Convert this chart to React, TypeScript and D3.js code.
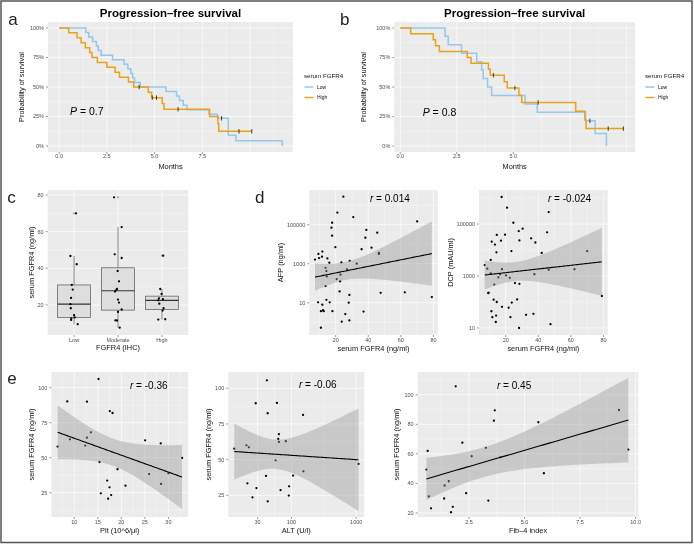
import React from "react";
import * as d3 from "d3";

// ---------------- DATA ----------------
// Panel a – Kaplan–Meier (time in months, survival proportion)
const aLowTime = [0, 1.40, 1.55, 1.75, 1.95, 2.05, 2.20, 2.80, 3.40, 3.60, 3.75, 3.85, 3.95, 4.25, 5.60, 6.15, 6.30, 6.50, 6.70, 7.85, 8.30, 8.86, 9.26, 11.69];
const aLowSurv = [1, 0.962, 0.923, 0.885, 0.846, 0.808, 0.769, 0.731, 0.692, 0.654, 0.615, 0.577, 0.538, 0.5, 0.462, 0.423, 0.385, 0.346, 0.308, 0.269, 0.235, 0.092, 0.046, 0];
const aLowCensor = [8.51];
const aHighTime = [0, 0.50, 0.94, 1.15, 1.37, 1.60, 1.72, 2.00, 2.50, 2.93, 3.16, 3.63, 3.90, 4.67, 4.84, 5.40, 5.49, 7.88, 8.32, 8.36, 10.09];
const aHighSurv = [1, 0.958, 0.917, 0.875, 0.833, 0.792, 0.75, 0.708, 0.667, 0.625, 0.583, 0.542, 0.5, 0.455, 0.41, 0.361, 0.312, 0.25, 0.188, 0.125, 0.125];
const aHighCensor = [4.19, 4.88, 5.10, 6.23, 9.42, 10.09];

// Panel b
const bLowTime = [0, 1.98, 2.12, 2.71, 3.38, 3.60, 3.67, 3.86, 4.04, 5.52, 6.06, 8.20, 8.62, 9.12];
const bLowSurv = [1, 0.929, 0.857, 0.786, 0.714, 0.643, 0.571, 0.5, 0.429, 0.357, 0.286, 0.214, 0.107, 0];
const bLowCensor = [8.39];
const bHighTime = [0, 0.46, 1.46, 1.56, 1.73, 2.96, 3.13, 3.90, 3.98, 4.60, 4.73, 5.25, 5.37, 7.76, 8.17, 8.22, 9.87];
const bHighSurv = [1, 0.95, 0.9, 0.85, 0.8, 0.75, 0.7, 0.65, 0.6, 0.545, 0.491, 0.43, 0.369, 0.295, 0.221, 0.148, 0.148];
const bHighCensor = [4.12, 5.07, 6.10, 9.20, 9.87];

const survTicks = [0, 0.25, 0.5, 0.75, 1];
const survTickLabels = ["0%", "25%", "50%", "75%", "100%"];
const monthTicks = [0, 2.5, 5, 7.5, 10];
const aMonthLabels = ["0.0", "2.5", "5.0", "7.5", ""];
const bMonthLabels = ["0.0", "2.5", "5.0", "", ""];

// Panel c – serum FGFR4 by FGFR4 (IHC)
const ihcCategories = ["Low", "Moderate", "High"];
const cLow = [70, 46.7, 42.2, 30.9, 28.4, 23.8, 20.4, 18.2, 14.4, 13.2, 12.7, 11.8, 9.5];
const cLowJitter = [0.045, -0.083, 0.06, -0.053, -0.03, -0.068, -0.083, -0.075, 0, 0.015, -0.06, -0.068, 0.083];
const cMod = [78.7, 62.5, 47.6, 45.6, 38.5, 32.9, 28.7, 28.2, 27.3, 22.9, 21.3, 17.5, 16.2, 11.6, 11.5, 7.6];
const cModJitter = [-0.09, 0.083, -0.075, 0.083, -0.008, 0.023, -0.023, -0.038, -0.068, 0, 0.023, 0.083, 0, -0.06, -0.023, 0.038];
const cHigh = [46.9, 28.7, 26, 23.6, 23.1, 22.5, 20.7, 18.2, 16.9, 12, 12.2];
const cHighJitter = [0.03, -0.038, -0.008, -0.068, 0.023, -0.083, -0.06, 0.038, 0.015, -0.083, 0.075];
const cYTicks = [20, 40, 60, 80];

// Panel d – AFP / DCP vs serum FGFR4
const afpX = [24.7, 21.0, 30.8, 17.8, 17.4, 17.8, 38.8, 38.2, 45.5, 42.0, 35.9, 46.5, 46.5, 70.0, 19.8, 11.8, 9.4, 9.8, 11.6, 7.3, 14.9, 16.1, 23.5, 28.6, 32.9, 13.8, 14.3, 14.5, 22.9, 20.6, 22.7, 26.9, 13.8, 22.4, 28.4, 47.6, 62.4, 79.0, 14.3, 9.2, 16.3, 11.8, 28.0, 10.9, 12.7, 12.2, 18.0, 37.1, 25.9, 23.7, 28.4, 10.9];
const afpY = [2750000, 417000, 245000, 126000, 70800, 27500, 53700, 21400, 38900, 6610, 5500, 3630, 3160, 148000, 7080, 4170, 3160, 1950, 2290, 1620, 1860, 1120, 1170, 1410, 1000, 617, 417, 224, 275, 162, 123, 513, 71, 38, 25, 32, 34, 19.5, 14, 10.5, 10.5, 7.9, 10, 3.7, 3.7, 4.1, 3.7, 3.5, 2.6, 1.07, 1.23, 0.52];
const dcpX = [17.5, 20.8, 46.4, 24.7, 30.4, 28.0, 45.4, 14.5, 19.6, 35.6, 11.4, 28.4, 38.2, 17.1, 13.4, 14.3, 23.5, 42.1, 70.0, 10.8, 7.1, 8.7, 17.7, 46.4, 62.2, 10.8, 16.5, 15.5, 20.2, 22.5, 37.6, 13.0, 25.7, 28.4, 9.3, 9.5, 79.0, 12.6, 14.5, 27.0, 23.7, 17.7, 21.8, 11.2, 14.1, 11.8, 22.9, 32.5, 37.0, 13.9, 47.5, 28.2];
const dcpY = [1100000, 427000, 288000, 112000, 66100, 53700, 47900, 38000, 38900, 28200, 20900, 23400, 19500, 22900, 16200, 8130, 9120, 7760, 9120, 4170, 2630, 1910, 1820, 1740, 1820, 1260, 1170, 891, 1050, 851, 1170, 468, 537, 501, 219, 229, 170, 123, 100, 126, 95, 65, 60, 44, 30, 26, 26, 32, 35, 17, 14, 10];
const fgfrTicks = [20, 40, 60, 80];
const logTicks = [10, 1000, 100000];
const logTickLabels = ["10", "1000", "100000"];

// Panel e – serum FGFR4 vs Plt, ALT, Fib-4
const pltX = [15.16, 8.52, 12.69, 17.56, 18.13, 13.53, 12.69, 9.08, 12.33, 6.47, 25.05, 28.37, 32.9, 15.37, 19.19, 25.9, 30.0, 17.0, 17.49, 20.88, 28.44, 15.65, 17.84, 17.2];
const pltY = [106.2, 90.2, 90, 83.3, 81.9, 68.1, 64.3, 63.1, 58.6, 57.9, 62.4, 60.2, 49.8, 46.9, 41.7, 38.3, 38.8, 33.6, 28.8, 30, 31.2, 24.5, 23.3, 20.7];
const altX = [41.8, 28.1, 59.7, 43, 151, 64, 62.5, 64, 81.9, 13.1, 20.2, 22, 56.9, 1086, 153, 40.5, 106, 20.9, 28.8, 67.9, 92.1, 25, 91, 43];
const altY = [105.6, 89.5, 89.7, 82.5, 81.3, 67.8, 64.5, 62.4, 62.9, 57.7, 60.0, 58.6, 49.5, 47.0, 41.8, 38.6, 38.8, 33.4, 30.1, 28.7, 31.3, 23.6, 24.8, 20.8];
const fibX = [0.64, 0.58, 0.69, 0.79, 1.40, 1.38, 1.90, 3.66, 3.62, 5.62, 9.25, 2.20, 3.26, 2.62, 3.91, 9.67, 5.87, 1.59, 2.37, 3.37, 1.77, 1.69];
const fibY = [62.0, 49.4, 31.2, 23.2, 38.6, 29.8, 105.7, 89.5, 82.5, 81.4, 89.7, 67.6, 64.1, 58.4, 57.7, 62.9, 46.9, 41.5, 33.4, 28.4, 24.2, 20.5];
const pltTicks = [10, 15, 20, 25, 30];
const fgfr25Ticks = [25, 50, 75, 100];
const altTicks = [30, 100, 1000];
const fibXTicks = [2.5, 5, 7.5, 10];
const fibXLabels = ["2.5", "5.0", "7.5", "10.0"];
const fgfr20Ticks = [20, 40, 60, 80, 100];

// ---------------- STYLE ----------------
const FONT = "'Liberation Sans', Arial, Helvetica, sans-serif";
const BG = "#EBEBEB";
const TICKCOL = "#4D4D4D";
const TITLECOL = "#111111";
const LOWCOL = "#95C8EA";
const HIGHCOL = "#E8A21C";
const TICKFS = 5.5;
const TITLEFS = 7.4;

type Box = { x0: number; x1: number; y0: number; y1: number };
type Sc = (v: number) => number;

interface FrameProps {
  id: string; box: Box; x: Sc; y: Sc;
  xMaj: number[]; xMin: number[]; yMaj: number[]; yMin: number[];
  xLab: string[]; yLab: string[];
  xTitle: string; yTitle: string; xTitleY: number; yTitleX: number;
  xLabOff?: number;
  children?: React.ReactNode;
}

function Frame(p: FrameProps) {
  const b = p.box;
  const inX = (v: number) => { const q = p.x(v); return q >= b.x0 - 0.01 && q <= b.x1 + 0.01; };
  const inY = (v: number) => { const q = p.y(v); return q >= b.y0 - 0.01 && q <= b.y1 + 0.01; };
  const off = p.xLabOff ?? 6.5;
  return (
    <g>
      <rect x={b.x0} y={b.y0} width={b.x1 - b.x0} height={b.y1 - b.y0} fill={BG} />
      {p.xMin.filter(inX).map((v, i) => (
        <line key={"xn" + i} x1={p.x(v)} x2={p.x(v)} y1={b.y0} y2={b.y1} stroke="#fff" strokeWidth={0.35} />
      ))}
      {p.yMin.filter(inY).map((v, i) => (
        <line key={"yn" + i} y1={p.y(v)} y2={p.y(v)} x1={b.x0} x2={b.x1} stroke="#fff" strokeWidth={0.35} />
      ))}
      {p.xMaj.filter(inX).map((v, i) => (
        <line key={"xj" + i} x1={p.x(v)} x2={p.x(v)} y1={b.y0} y2={b.y1} stroke="#fff" strokeWidth={0.7} />
      ))}
      {p.yMaj.filter(inY).map((v, i) => (
        <line key={"yj" + i} y1={p.y(v)} y2={p.y(v)} x1={b.x0} x2={b.x1} stroke="#fff" strokeWidth={0.7} />
      ))}
      <clipPath id={p.id}>
        <rect x={b.x0} y={b.y0} width={b.x1 - b.x0} height={b.y1 - b.y0} />
      </clipPath>
      <g clipPath={`url(#${p.id})`}>{p.children}</g>
      {p.xMaj.map((v, i) =>
        p.xLab[i] ? (
          <g key={"xt" + i}>
            <line x1={p.x(v)} x2={p.x(v)} y1={b.y1} y2={b.y1 + 2} stroke="#333" strokeWidth={0.5} />
            <text x={p.x(v)} y={b.y1 + off} textAnchor="middle" fontSize={TICKFS} fill={TICKCOL}>{p.xLab[i]}</text>
          </g>
        ) : null
      )}
      {p.yMaj.map((v, i) =>
        p.yLab[i] ? (
          <g key={"yt" + i}>
            <line y1={p.y(v)} y2={p.y(v)} x1={b.x0 - 2} x2={b.x0} stroke="#333" strokeWidth={0.5} />
            <text x={b.x0 - 4} y={p.y(v)} dy="0.35em" textAnchor="end" fontSize={TICKFS} fill={TICKCOL}>{p.yLab[i]}</text>
          </g>
        ) : null
      )}
      <text x={(b.x0 + b.x1) / 2} y={p.xTitleY} textAnchor="middle" fontSize={TITLEFS} fill={TITLECOL}>{p.xTitle}</text>
      <text transform={`translate(${p.yTitleX},${(b.y0 + b.y1) / 2}) rotate(-90)`} dy="0.35em" textAnchor="middle" fontSize={TITLEFS} fill={TITLECOL}>{p.yTitle}</text>
    </g>
  );
}

function minorsOf(maj: number[]): number[] {
  const step = maj[1] - maj[0];
  const out: number[] = [maj[0] - step / 2];
  for (let i = 0; i < maj.length; i++) out.push(maj[i] + step / 2);
  return out;
}

// ----- Kaplan–Meier helpers -----
function KMLine({ x, y, times, surv, color }: { x: Sc; y: Sc; times: number[]; surv: number[]; color: string }) {
  const pts = times.map((t, i) => [t, surv[i]] as [number, number]);
  const line = d3.line<[number, number]>().x((d) => x(d[0])).y((d) => y(d[1])).curve(d3.curveStepAfter);
  return <path d={line(pts) || ""} fill="none" stroke={color} strokeWidth={1.5} />;
}
function Censors({ x, y, times, surv, censors }: { x: Sc; y: Sc; times: number[]; surv: number[]; censors: number[] }) {
  const sAt = (t: number) => { let s = 1; times.forEach((tt, i) => { if (tt <= t) s = surv[i]; }); return s; };
  return (
    <g>
      {censors.map((c, i) => (
        <line key={i} x1={x(c)} x2={x(c)} y1={y(sAt(c)) - 2.2} y2={y(sAt(c)) + 2.2} stroke="#111" strokeWidth={0.8} />
      ))}
    </g>
  );
}

// ----- regression with 95% CI -----
function tq(df: number) {
  const z = 1.959964;
  return z + (z ** 3 + z) / (4 * df) + (5 * z ** 5 + 16 * z ** 3 + 3 * z) / (96 * df * df) + (3 * z ** 7 + 19 * z ** 5 + 17 * z ** 3 - 15 * z) / (384 * df ** 3);
}
function fitLM(xs: number[], ys: number[]) {
  const n = xs.length;
  const mx = d3.mean(xs) as number, my = d3.mean(ys) as number;
  let sxx = 0, sxy = 0;
  xs.forEach((v, i) => { sxx += (v - mx) ** 2; sxy += (v - mx) * (ys[i] - my); });
  const b = sxy / sxx, a = my - b * mx;
  let sse = 0;
  xs.forEach((v, i) => { sse += (ys[i] - a - b * v) ** 2; });
  const s = Math.sqrt(sse / (n - 2)), t = tq(n - 2);
  const [lo, hi] = d3.extent(xs) as [number, number];
  return d3.range(81).map((i) => {
    const g = lo + ((hi - lo) * i) / 80;
    const f = a + b * g;
    const h = t * s * Math.sqrt(1 / n + (g - mx) ** 2 / sxx);
    return { x: g, f, lo: f - h, hi: f + h };
  });
}

function Scatter({ xs, ys, x, y, xLog, yLog }: { xs: number[]; ys: number[]; x: Sc; y: Sc; xLog?: boolean; yLog?: boolean }) {
  const tx = xs.map((v) => (xLog ? Math.log10(v) : v));
  const ty = ys.map((v) => (yLog ? Math.log10(v) : v));
  const fit = fitLM(tx, ty);
  const bx = (v: number) => x(xLog ? Math.pow(10, v) : v);
  const by = (v: number) => y(yLog ? Math.pow(10, v) : v);
  const area = d3.area<{ x: number; lo: number; hi: number }>().x((d) => bx(d.x)).y0((d) => by(d.lo)).y1((d) => by(d.hi));
  const line = d3.line<{ x: number; f: number }>().x((d) => bx(d.x)).y((d) => by(d.f));
  return (
    <g>
      {xs.map((v, i) => <circle key={i} cx={x(v)} cy={y(ys[i])} r={1.15} fill="#000" />)}
      <path d={area(fit) || ""} fill="#999999" fillOpacity={0.42} />
      <path d={line(fit) || ""} fill="none" stroke="#000" strokeWidth={1.1} />
    </g>
  );
}

function RLabel({ x, y, text }: { x: number; y: number; text: string }) {
  return (
    <text x={x} y={y} fontSize={10} fill="#000">
      <tspan fontStyle="italic">r</tspan>
      {" = " + text}
    </text>
  );
}

function PanelLetter({ x, y, t }: { x: number; y: number; t: string }) {
  return <text x={x} y={y} fontSize={17} fill="#222">{t}</text>;
}

function Legend({ x, y }: { x: number; y: number }) {
  return (
    <g>
      <text x={x} y={y} fontSize={6.2} fill={TITLECOL}>serum FGFR4</text>
      <line x1={x + 0.5} x2={x + 9.5} y1={y + 9} y2={y + 9} stroke={LOWCOL} strokeWidth={1.5} />
      <text x={x + 13} y={y + 9} dy="0.35em" fontSize={5} fill={TITLECOL}>Low</text>
      <line x1={x + 0.5} x2={x + 9.5} y1={y + 19.5} y2={y + 19.5} stroke={HIGHCOL} strokeWidth={1.5} />
      <text x={x + 13} y={y + 19.5} dy="0.35em" fontSize={5} fill={TITLECOL}>High</text>
    </g>
  );
}

function PanelKM(props: {
  id: string; box: Box; xDom: [number, number]; labels: string[]; title: string; yTitleX: number;
  lowT: number[]; lowS: number[]; lowC: number[]; highT: number[]; highS: number[]; highC: number[];
  pText: string; pX: number; pY: number; legendX: number;
}) {
  const b = props.box;
  const x = d3.scaleLinear().domain(props.xDom).range([b.x0, b.x1]);
  const y = d3.scaleLinear().domain([-0.05, 1.05]).range([b.y1, b.y0]);
  return (
    <g>
      <text x={(b.x0 + b.x1) / 2} y={17.3} textAnchor="middle" fontSize={11.5} fontWeight="bold" fill="#000">{props.title}</text>
      <Frame id={props.id} box={b} x={x} y={y}
        xMaj={monthTicks} xMin={minorsOf(monthTicks)} yMaj={survTicks} yMin={minorsOf(survTicks)}
        xLab={props.labels} yLab={survTickLabels}
        xTitle="Months" yTitle="Probability of survival" xTitleY={169} yTitleX={props.yTitleX} xLabOff={5.5}>
        <KMLine x={x} y={y} times={props.lowT} surv={props.lowS} color={LOWCOL} />
        <KMLine x={x} y={y} times={props.highT} surv={props.highS} color={HIGHCOL} />
        <Censors x={x} y={y} times={props.lowT} surv={props.lowS} censors={props.lowC} />
        <Censors x={x} y={y} times={props.highT} surv={props.highS} censors={props.highC} />
      </Frame>
      <text x={props.pX} y={props.pY} fontSize={10.5} fill="#000">
        <tspan fontStyle="italic">P</tspan>{" = " + props.pText}
      </text>
      <Legend x={props.legendX} y={78} />
    </g>
  );
}

function PanelBox() {
  const b: Box = { x0: 47.7, x1: 188.3, y0: 190, y1: 335 };
  const x = d3.scaleLinear().domain([0.4, 3.6]).range([b.x0, b.x1]);
  const y = d3.scaleLinear().domain([3.6, 82.7]).range([b.y1, b.y0]);
  const groups = [
    { vals: cLow, jit: cLowJitter },
    { vals: cMod, jit: cModJitter },
    { vals: cHigh, jit: cHighJitter },
  ];
  const bw = 0.375;
  return (
    <Frame id="clipc" box={b} x={x} y={y} xMaj={[1, 2, 3]} xMin={[]} yMaj={cYTicks} yMin={minorsOf(cYTicks)}
      xLab={ihcCategories} yLab={cYTicks.map(String)} xTitle="FGFR4 (IHC)" yTitle="serum FGFR4 (ng/ml)" xTitleY={350} yTitleX={31.7}>
      {groups.map((g, gi) => {
        const s = [...g.vals].sort((p, q) => p - q);
        const q1 = d3.quantile(s, 0.25) as number, md = d3.quantile(s, 0.5) as number, q3 = d3.quantile(s, 0.75) as number;
        const iqr = q3 - q1;
        const inside = s.filter((v) => v >= q1 - 1.5 * iqr && v <= q3 + 1.5 * iqr);
        const wlo = d3.min(inside) as number, whi = d3.max(inside) as number;
        const outl = s.filter((v) => v < q1 - 1.5 * iqr || v > q3 + 1.5 * iqr);
        const c = gi + 1;
        return (
          <g key={gi}>
            <line x1={x(c)} x2={x(c)} y1={y(q3)} y2={y(whi)} stroke="#555" strokeWidth={0.7} />
            <line x1={x(c)} x2={x(c)} y1={y(q1)} y2={y(wlo)} stroke="#555" strokeWidth={0.7} />
            <rect x={x(c - bw)} y={y(q3)} width={x(c + bw) - x(c - bw)} height={y(q1) - y(q3)} fill="#DEDEDE" stroke="#555" strokeWidth={0.7} />
            <line x1={x(c - bw)} x2={x(c + bw)} y1={y(md)} y2={y(md)} stroke="#333" strokeWidth={1.2} />
            {outl.map((v, i) => <circle key={"o" + i} cx={x(c)} cy={y(v)} r={1.15} fill="#AAAAAA" />)}
            {g.vals.map((v, i) => <circle key={i} cx={x(c + g.jit[i])} cy={y(v)} r={1.15} fill="#000" />)}
          </g>
        );
      })}
    </Frame>
  );
}

function PanelD() {
  const bl: Box = { x0: 309.3, x1: 437.7, y0: 190, y1: 335 };
  const br: Box = { x0: 479, x1: 607.7, y0: 190, y1: 335 };
  const xl = d3.scaleLinear().domain([3.8, 82.6]).range([bl.x0, bl.x1]);
  const yl = d3.scaleLog().domain([Math.pow(10, -0.656), Math.pow(10, 6.78)]).range([bl.y1, bl.y0]);
  const xr = d3.scaleLinear().domain([3.6, 82.6]).range([br.x0, br.x1]);
  const yr = d3.scaleLog().domain([Math.pow(10, 0.73), Math.pow(10, 6.31)]).range([br.y1, br.y0]);
  const logMinor = [1, 100, 10000, 1000000];
  return (
    <g>
      <Frame id="clipd1" box={bl} x={xl} y={yl} xMaj={fgfrTicks} xMin={minorsOf(fgfrTicks)} yMaj={logTicks} yMin={logMinor}
        xLab={fgfrTicks.map(String)} yLab={logTickLabels} xTitle="serum FGFR4 (ng/ml)" yTitle="AFP (ng/ml)" xTitleY={350.5} yTitleX={280}>
        <Scatter xs={afpX} ys={afpY} x={xl} y={yl} yLog />
      </Frame>
      <Frame id="clipd2" box={br} x={xr} y={yr} xMaj={fgfrTicks} xMin={minorsOf(fgfrTicks)} yMaj={logTicks} yMin={logMinor}
        xLab={fgfrTicks.map(String)} yLab={logTickLabels} xTitle="serum FGFR4 (ng/ml)" yTitle="DCP (mAU/ml)" xTitleY={350.5} yTitleX={450}>
        <Scatter xs={dcpX} ys={dcpY} x={xr} y={yr} yLog />
      </Frame>
      <RLabel x={370} y={202} text="0.014" />
      <RLabel x={548} y={202} text="-0.024" />
    </g>
  );
}

function PanelE() {
  const b1: Box = { x0: 51.4, x1: 188.2, y0: 372, y1: 517 };
  const b2: Box = { x0: 228.3, x1: 364.3, y0: 372, y1: 517 };
  const b3: Box = { x0: 417.7, x1: 638.3, y0: 372, y1: 517 };
  const x1 = d3.scaleLinear().domain([5.15, 34.2]).range([b1.x0, b1.x1]);
  const y1 = d3.scaleLinear().domain([7.6, 111.2]).range([b1.y1, b1.y0]);
  const x2 = d3.scaleLog().domain([Math.pow(10, 1.025), Math.pow(10, 3.125)]).range([b2.x0, b2.x1]);
  const y2 = d3.scaleLinear().domain([9.8, 111.4]).range([b2.y1, b2.y0]);
  const x3 = d3.scaleLinear().domain([0.19, 10.12]).range([b3.x0, b3.x1]);
  const y3 = d3.scaleLinear().domain([17.3, 115.4]).range([b3.y1, b3.y0]);
  const altMinor = [Math.pow(10, (Math.log10(30) + 2) / 2), Math.pow(10, 2.5)];
  return (
    <g>
      <Frame id="clipe1" box={b1} x={x1} y={y1} xMaj={pltTicks} xMin={minorsOf(pltTicks)} yMaj={fgfr25Ticks} yMin={minorsOf(fgfr25Ticks)}
        xLab={pltTicks.map(String)} yLab={fgfr25Ticks.map(String)} xTitle="Plt (10^6/μl)" yTitle="serum FGFR4 (ng/ml)" xTitleY={533} yTitleX={31.7}>
        <Scatter xs={pltX} ys={pltY} x={x1} y={y1} />
      </Frame>
      <Frame id="clipe2" box={b2} x={x2} y={y2} xMaj={altTicks} xMin={altMinor} yMaj={fgfr25Ticks} yMin={minorsOf(fgfr25Ticks)}
        xLab={altTicks.map(String)} yLab={fgfr25Ticks.map(String)} xTitle="ALT (U/l)" yTitle="serum FGFR4 (ng/ml)" xTitleY={533} yTitleX={208.3}>
        <Scatter xs={altX} ys={altY} x={x2} y={y2} xLog />
      </Frame>
      <Frame id="clipe3" box={b3} x={x3} y={y3} xMaj={fibXTicks} xMin={minorsOf(fibXTicks)} yMaj={fgfr20Ticks} yMin={minorsOf(fgfr20Ticks)}
        xLab={fibXLabels} yLab={fgfr20Ticks.map(String)} xTitle="Fib–4 index" yTitle="serum FGFR4 (ng/ml)" xTitleY={533} yTitleX={396.7}>
        <Scatter xs={fibX} ys={fibY} x={x3} y={y3} />
      </Frame>
      <RLabel x={130} y={389} text="-0.36" />
      <RLabel x={299} y={388.3} text="-0.06" />
      <RLabel x={497} y={389.3} text="0.45" />
    </g>
  );
}

export default function App() {
  return (
    <svg width={694} height={545} style={{ position: "absolute", left: 0, top: 0, willChange: "transform" }} fontFamily={FONT}>
      <rect width={694} height={545} fill="#fff" />
      <g>
        <PanelKM id="clipa" box={{ x0: 48, x1: 293, y0: 22, y1: 152 }} xDom={[-0.584, 12.25]} labels={aMonthLabels}
          title="Progression–free survival" yTitleX={21.7}
          lowT={aLowTime} lowS={aLowSurv} lowC={aLowCensor} highT={aHighTime} highS={aHighSurv} highC={aHighCensor}
          pText="0.7" pX={70} pY={115} legendX={304} />
        <PanelKM id="clipb" box={{ x0: 394.3, x1: 635, y0: 22, y1: 152 }} xDom={[-0.265, 10.385]} labels={bMonthLabels}
          title="Progression–free survival" yTitleX={363.3}
          lowT={bLowTime} lowS={bLowSurv} lowC={bLowCensor} highT={bHighTime} highS={bHighSurv} highC={bHighCensor}
          pText="0.8" pX={422.7} pY={115.7} legendX={645} />
        <PanelBox />
        <PanelD />
        <PanelE />
        <PanelLetter x={8.3} y={25} t="a" />
        <PanelLetter x={340} y={25} t="b" />
        <PanelLetter x={7.3} y={203} t="c" />
        <PanelLetter x={255} y={202.7} t="d" />
        <PanelLetter x={7.3} y={384.3} t="e" />
      </g>
      <rect x={1} y={1} width={691} height={541.5} fill="none" stroke="#555" strokeWidth={1.5} />
    </svg>
  );
}
